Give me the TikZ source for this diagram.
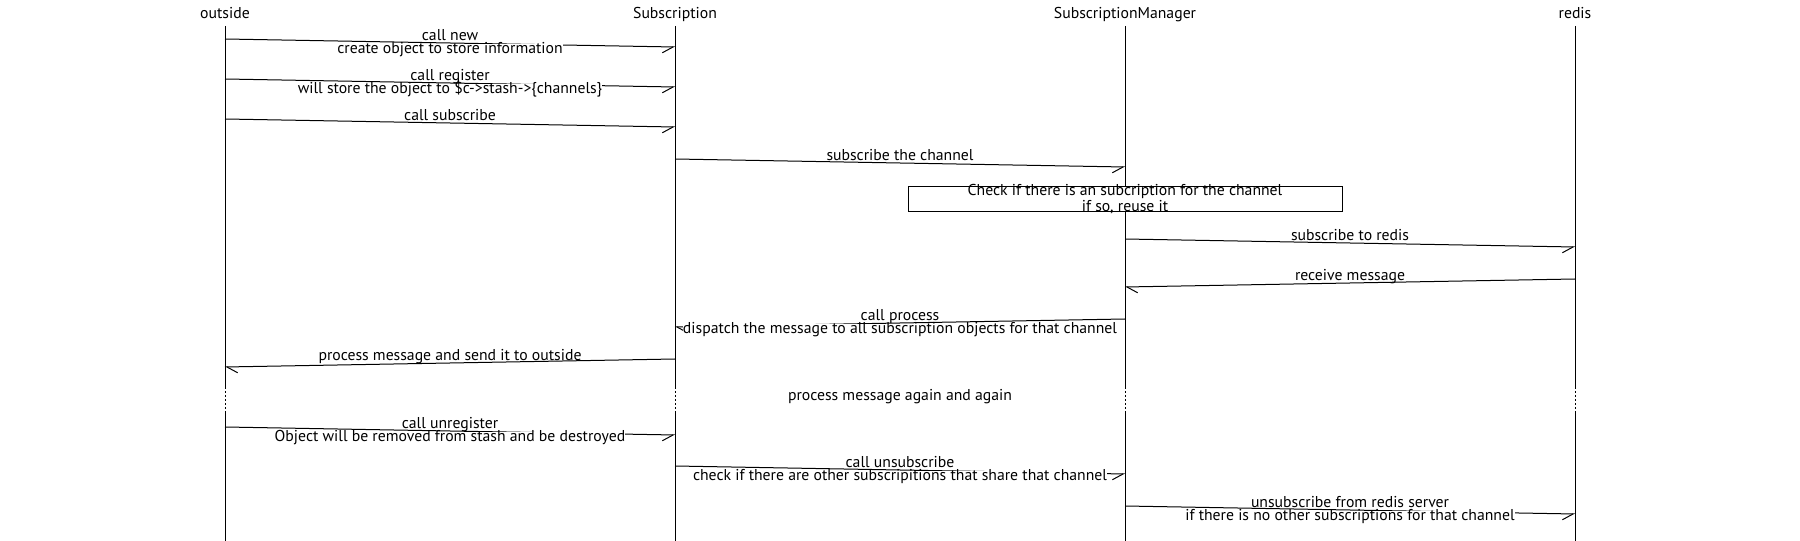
\documentclass[tikz,border=0pt]{standalone}
\usepackage{fontspec}
\setmainfont{PT Sans}
\usetikzlibrary{arrows.meta}

\tikzset{
  actor/.style={inner sep=0pt, anchor=base},
  lbl/.style={inner sep=0pt, anchor=base, fill=white, text height=7.5pt, text depth=0pt},
  note/.style={draw, fill=white, inner xsep=0pt, inner ysep=-1.5pt, align=center, minimum width=325.5pt},
  msgr/.style={-{Straight Barb[harpoon,swap,length=8pt,width=9pt]}},
  msgl/.style={-{Straight Barb[harpoon,length=8pt,width=9pt]}},
  gap/.style={dash pattern=on 1.5pt off 1.5pt}
}

\begin{document}
\begin{tikzpicture}[x=0.75pt,y=-0.75pt,line width=0.75pt,font=\fontsize{11.8}{10}\selectfont]
\useasboundingbox (0,0) rectangle (1800,541);

% actors
\node[actor] (outside) at (225,18.5) {outside};
\node[actor] (sub) at (675,18.5) {Subscription};
\node[actor] (mgr) at (1125,18.5) {SubscriptionManager};
\node[actor] (redis) at (1575,18.5) {redis};

% lifelines
\foreach \n/\x in {outside/225,sub/675,mgr/1125,redis/1575} {
  \coordinate (\n-top) at (\x,26);
  \coordinate (\n-g1) at (\x,387);
  \coordinate (\n-g2) at (\x,412);
  \coordinate (\n-bot) at (\x,541);
  \draw (\n-top) -- (\n-g1);
  \draw[gap] (\n-g1) -- (\n-g2);
  \draw (\n-g2) -- (\n-bot);
}

% messages
\coordinate (m1a) at (225,39); \coordinate (m1b) at (675,47);
\draw[msgr] (m1a) -- (m1b);
\node[lbl] (l1a) at (450,40.5) {call new};
\node[lbl] (l1b) at (450,54) {create object to store information};

\coordinate (m2a) at (225,79); \coordinate (m2b) at (675,87);
\draw[msgr] (m2a) -- (m2b);
\node[lbl] (l2a) at (450,80.5) {call register};
\node[lbl] (l2b) at (450,94) {will store the object to \$c->stash->\{channels\}};

\coordinate (m3a) at (225,119); \coordinate (m3b) at (675,127);
\draw[msgr] (m3a) -- (m3b);
\node[lbl] (l3) at (450,120.5) {call subscribe};

\coordinate (m4a) at (675,159); \coordinate (m4b) at (1125,167);
\draw[msgr] (m4a) -- (m4b);
\node[lbl] (l4) at (900,160.5) {subscribe the channel};

\node[note] (check) at (1125,199) {Check if there is an subcription for the channel\\if so, reuse it};

\coordinate (m5a) at (1125,239); \coordinate (m5b) at (1575,247);
\draw[msgr] (m5a) -- (m5b);
\node[lbl] (l5) at (1350,240.5) {subscribe to redis};

\coordinate (m6a) at (1575,279); \coordinate (m6b) at (1125,287);
\draw[msgl] (m6a) -- (m6b);
\node[lbl] (l6) at (1350,280.5) {receive message};

\coordinate (m7a) at (1125,319); \coordinate (m7b) at (675,327);
\draw[msgl] (m7a) -- (m7b);
\node[lbl] (l7a) at (900,320.5) {call process};
\node[lbl] (l7b) at (900,334) {dispatch the message to all subscription objects for that channel};

\coordinate (m8a) at (675,359); \coordinate (m8b) at (225,367);
\draw[msgl] (m8a) -- (m8b);
\node[lbl] (l8) at (450,360.5) {process message and send it to outside};

\node[lbl] (again) at (900,400.5) {process message again and again};

\coordinate (m9a) at (225,427); \coordinate (m9b) at (675,435);
\draw[msgr] (m9a) -- (m9b);
\node[lbl] (l9a) at (450,428.5) {call unregister};
\node[lbl] (l9b) at (450,442) {Object will be removed from stash and be destroyed};

\coordinate (m10a) at (675,466); \coordinate (m10b) at (1125,474);
\draw[msgr] (m10a) -- (m10b);
\node[lbl] (l10a) at (900,467.5) {call unsubscribe};
\node[lbl] (l10b) at (900,481) {check if there are other subscripitions that share that channel};

\coordinate (m11a) at (1125,506); \coordinate (m11b) at (1575,514);
\draw[msgr] (m11a) -- (m11b);
\node[lbl] (l11a) at (1350,507.5) {unsubscribe from redis server};
\node[lbl] (l11b) at (1350,521) {if there is no other subscriptions for that channel};

\end{tikzpicture}
\end{document}
